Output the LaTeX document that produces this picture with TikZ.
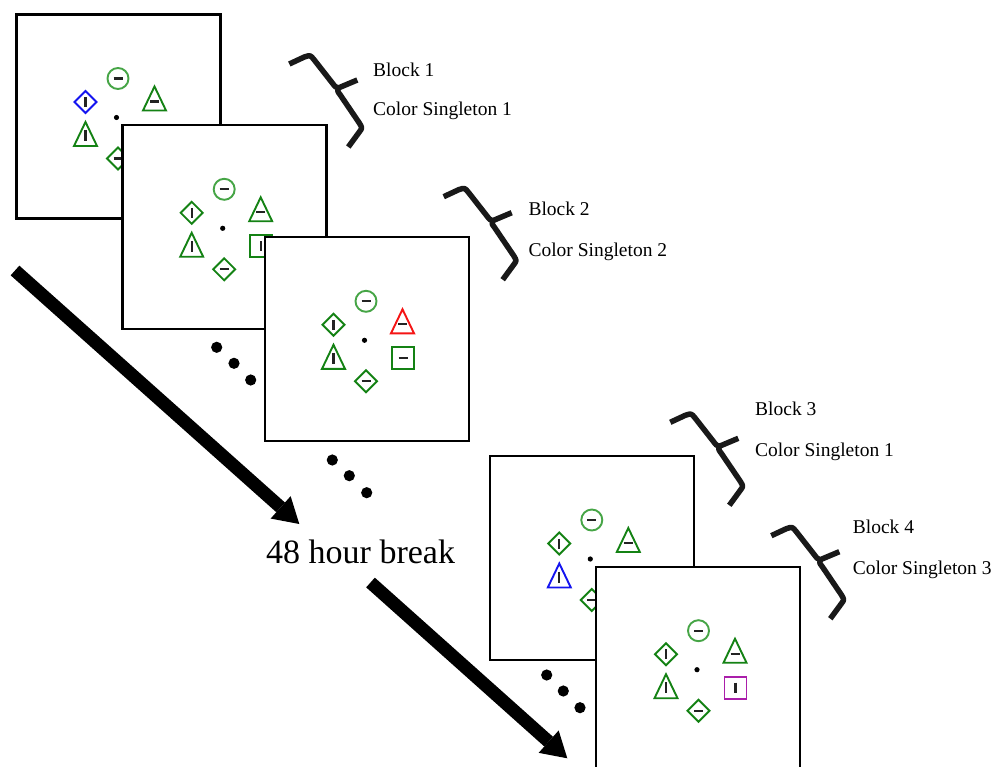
\documentclass[tikz,border=0pt]{standalone}
\usepackage{fontspec}
\setmainfont{Liberation Serif}
\usetikzlibrary{arrows.meta}
\definecolor{stimgreen}{RGB}{20,130,20}
\definecolor{circgreen}{RGB}{70,165,70}
\definecolor{stimblue}{RGB}{20,20,240}
\definecolor{stimred}{RGB}{245,20,20}
\definecolor{stimpurple}{RGB}{170,30,170}
\definecolor{barcol}{RGB}{35,35,35}
\definecolor{bracecol}{RGB}{25,25,25}
\tikzset{
  frame/.style={draw=black, line width=2.5pt, fill=white, minimum size=204pt, inner sep=0pt, outer sep=0pt},
  stimline/.style={line width=1.9pt},
  barline/.style={line width=2.3pt, draw=barcol},
  bracel/.style={line width=5.5pt, draw=bracecol, line join=round},
  lbl/.style={anchor=base west, inner sep=0pt, font=\fontsize{19.5}{23}\selectfont},
  bigtxt/.style={anchor=base west, inner sep=0pt, font=\fontsize{34}{40}\selectfont},
  bigarrow/.style={line width=13pt, -{Triangle[length=25pt,width=30pt,line width=0pt]}},
  ell/.style={fill=black},
  pics/trih/.style={code={\draw[stimline,#1] (-11.5,12)--(0,-12)--(11.5,12)--cycle; \draw[barline] (-4.5,3)--(4.5,3);}},
  pics/triv/.style={code={\draw[stimline,#1] (-11.5,12)--(0,-12)--(11.5,12)--cycle; \draw[barline] (0,-4)--(0,7);}},
  pics/diamh/.style={code={\draw[stimline,#1] (-11,0)--(0,-11)--(11,0)--(0,11)--cycle; \draw[barline] (-4.5,0)--(4.5,0);}},
  pics/diamv/.style={code={\draw[stimline,#1] (-11,0)--(0,-11)--(11,0)--(0,11)--cycle; \draw[barline] (0,-5)--(0,5);}},
  pics/sqh/.style={code={\draw[stimline,#1] (-11,-11) rectangle (11,11); \draw[barline] (-4.5,0)--(4.5,0);}},
  pics/sqv/.style={code={\draw[stimline,#1] (-11,-11) rectangle (11,11); \draw[barline] (0,-5)--(0,5);}},
  pics/nosq/.style={code={}},
  pics/circh/.style={code={\draw[stimline,#1] (0,0) circle (10.5pt); \draw[barline] (-4.5,0)--(4.5,0);}},
  pics/blockbrace/.style={code={
    \draw[bracel] (-68,-16) -- (-53,-23) .. controls (-47,-25) .. (-43,-20) -- (-25,3) .. controls (-22,7) .. (-19,8) -- (0,0);
    \draw[bracel] (-19,8) .. controls (-20,11) .. (-17,15) -- (2,43) .. controls (5,48) .. (2,52) -- (-9,67);
  }},
}
% #1 dot coordinate, #2 left diamond colour, #3 left triangle colour,
% #4 right triangle colour, #5 square colour, #6 square pic
\newcommand\drawstims[6]{%
  \begin{scope}[shift={(#1)}]
    \fill (0,0) circle (2.6pt);
    \pic at (1.5,-39) {circh=circgreen};
    \pic at (-31,-15.5) {diamv=#2};
    \pic at (38,-19) {trih=#4};
    \pic at (-31,16.5) {triv=#3};
    \pic at (1.5,41) {diamh=stimgreen};
    \pic at (38.5,18) {#6=#5};
  \end{scope}}
\begin{document}
\begin{tikzpicture}[x=1pt,y=-1pt]
\useasboundingbox[fill=white] (0,0) rectangle (995,767);

% frames
\node[frame] (f1) at (118.5,116.5) {};
\coordinate (d1) at (116.5,117.5);
\drawstims{d1}{stimblue}{stimgreen}{stimgreen}{stimgreen}{nosq}
\node[frame] (f2) at (224.5,227) {};
\coordinate (d2) at (222.7,228.3);
\drawstims{d2}{stimgreen}{stimgreen}{stimgreen}{stimgreen}{sqv}
\node[frame] (f3) at (367,339) {};
\coordinate (d3) at (364.5,340.3);
\drawstims{d3}{stimgreen}{stimgreen}{stimred}{stimgreen}{sqh}
\node[frame] (f4) at (592,558) {};
\coordinate (d4) at (590.3,559);
\drawstims{d4}{stimgreen}{stimblue}{stimgreen}{stimgreen}{nosq}
\node[frame] (f5) at (698,669) {};
\coordinate (d5) at (697,669.7);
\drawstims{d5}{stimgreen}{stimgreen}{stimgreen}{stimpurple}{sqv}

% ellipses
\foreach \p in {(216.7,347.3),(234,363.3),(250.7,380),
                (332.3,460),(349.3,475.7),(366.7,492.7),
                (546.7,675),(563.3,691),(580,707.7)}
  \fill[ell] \p circle (5.6pt);

% braces and labels
\pic at (357.3,80) {blockbrace};
\pic at (511.7,212.7) {blockbrace};
\pic at (738.3,438.3) {blockbrace};
\pic at (839.3,551.7) {blockbrace};
\node[lbl] (b1) at (373,76.7) {Block 1};
\node[lbl] (c1) at (373,116) {Color Singleton 1};
\node[lbl] (b2) at (528.3,216) {Block 2};
\node[lbl] (c2) at (528.3,256) {Color Singleton 2};
\node[lbl] (b3) at (755,415) {Block 3};
\node[lbl] (c3) at (755,456) {Color Singleton 1};
\node[lbl] (b4) at (852.7,533.3) {Block 4};
\node[lbl] (c4) at (852.7,574) {Color Singleton 3};

% break label and arrows
\node[bigtxt] (brk) at (266,563.3) {48 hour break};
\coordinate (a1s) at (15,270.5);
\coordinate (a1e) at (299.3,524);
\coordinate (a2s) at (370.5,582.5);
\coordinate (a2e) at (567.3,758.3);
\draw[bigarrow] (a1s) -- (a1e);
\draw[bigarrow] (a2s) -- (a2e);
\end{tikzpicture}
\end{document}
